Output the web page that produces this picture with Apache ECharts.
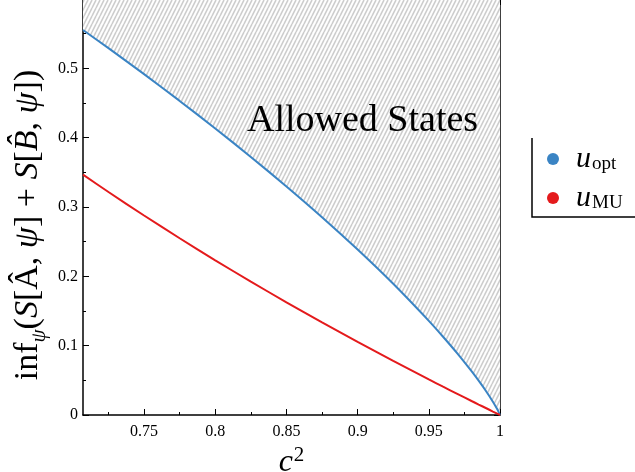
<!DOCTYPE html>
<html>
<head>
<meta charset="utf-8">
<script src="https://cdn.jsdelivr.net/npm/echarts@6/dist/echarts.min.js"></script>
<style>
  html, body { margin: 0; padding: 0; background: #fff; }
  #chart { width: 635px; height: 472px; }
</style>
</head>
<body>
<div id="chart"></div>
<script>
// c^2 sample points and the two entropic lower bounds (nats)
const c2 = [0.70711, 0.725, 0.75, 0.775, 0.8, 0.825, 0.85, 0.875, 0.9, 0.925, 0.95, 0.96, 0.97, 0.98, 0.985, 0.99, 0.995, 0.998, 0.999, 1];
const uOpt = [0.5553, 0.5291, 0.4916, 0.4530, 0.4133, 0.3722, 0.3297, 0.2853, 0.2386, 0.1892, 0.1358, 0.1129, 0.0889, 0.0632, 0.0495, 0.0350, 0.0192, 0.0086, 0.0046, 0];
const uMU = [0.3466, 0.3216, 0.2877, 0.2549, 0.2231, 0.1924, 0.1625, 0.1335, 0.1054, 0.0780, 0.0513, 0.0408, 0.0305, 0.0202, 0.0151, 0.0101, 0.0050, 0.0020, 0.0010, 0];

// tick positions on the c^2 axis
const xMajor = [0.75, 0.8, 0.85, 0.9, 0.95, 1];
const xMinor = [0.725, 0.775, 0.825, 0.875, 0.925, 0.975];
const xMin = 0.70711, xMax = 1;
const yMin = 0, yMax = 0.6, yStep = 0.1;

const serif = '"Liberation Serif", "DejaVu Serif", serif';
const BLUE = '#3a84c4';
const RED = '#e41a1c';

// diagonal hatch used for the allowed region
function hatchPattern() {
  const w = 4, h = 8;
  const cv = document.createElement('canvas');
  cv.width = w; cv.height = h;
  const ctx = cv.getContext('2d');
  ctx.fillStyle = '#ffffff';
  ctx.fillRect(0, 0, w, h);
  ctx.strokeStyle = '#cdcdcd';
  ctx.lineWidth = 1.6;
  for (let k = -1; k <= 1; k++) {
    ctx.beginPath();
    ctx.moveTo(k * w, h);
    ctx.lineTo(k * w + w, 0);
    ctx.stroke();
  }
  return cv;
}

const pairs = (ys) => c2.map((x, i) => [x, ys[i]]);

function xAxisDef(pos, values, len, withLine, withLabels) {
  return {
    type: 'value', position: pos, min: xMin, max: xMax,
    axisLine: { show: withLine, onZero: false, lineStyle: { color: '#000', width: 1.5 } },
    axisTick: { show: true, inside: true, length: len, customValues: values, lineStyle: { color: '#000', width: 1 } },
    axisLabel: withLabels ? {
      show: true, customValues: values, margin: 9,
      fontFamily: serif, fontSize: 16, color: '#000',
      formatter: (v) => String(+v.toFixed(3))
    } : { show: false },
    splitLine: { show: false }
  };
}

function yAxisDef(pos, withLabels) {
  return {
    type: 'value', position: pos, min: yMin, max: yMax, interval: yStep,
    axisLine: { show: true, onZero: false, lineStyle: { color: '#000', width: 1.5 } },
    axisTick: { show: true, inside: true, length: 6, lineStyle: { color: '#000', width: 1 } },
    minorTick: { show: true, splitNumber: 2, length: 3, lineStyle: { color: '#000', width: 1 } },
    axisLabel: withLabels ? {
      show: true, margin: 5, showMaxLabel: false,
      fontFamily: serif, fontSize: 16, color: '#000',
      formatter: (v) => String(+v.toFixed(2))
    } : { show: false },
    splitLine: { show: false }
  };
}

const chart = echarts.init(document.getElementById('chart'), null, { renderer: 'canvas' });

chart.setOption({
  backgroundColor: '#fff',
  animation: false,
  grid: { left: 83, right: 135, top: -1, bottom: 57, containLabel: false, outerBoundsMode: 'none' },
  xAxis: [
    Object.assign(xAxisDef('bottom', xMajor, 6, true, true), {
      name: '{c|c}{s|2}', nameLocation: 'middle', nameGap: 18,
      nameTextStyle: {
        rich: {
          c: { fontFamily: serif, fontStyle: 'italic', fontSize: 32, color: '#000', lineHeight: 34, verticalAlign: 'bottom' },
          s: { fontFamily: serif, fontSize: 21, color: '#000', lineHeight: 34, verticalAlign: 'top', padding: [0, 0, 0, 1] }
        }
      }
    }),
    xAxisDef('bottom', xMinor, 3, false, false),
    xAxisDef('top', xMajor, 6, true, false),
    xAxisDef('top', xMinor, 3, false, false)
  ],
  yAxis: [yAxisDef('left', true), yAxisDef('right', false)],
  legend: {
    orient: 'vertical', left: 542, top: 139, itemGap: 9,
    icon: 'circle', itemWidth: 12, itemHeight: 12,
    data: ['u_opt', 'u_MU'],
    formatter: (name) => name === 'u_opt' ? '{u|u}{s|opt}' : '{u|u}{s|MU}',
    textStyle: {
      rich: {
        u: { fontFamily: serif, fontStyle: 'italic', fontSize: 30, color: '#000', lineHeight: 29, verticalAlign: 'middle', padding: [0, 1, 0, 12] },
        s: { fontFamily: serif, fontSize: 19, color: '#000', lineHeight: 29, verticalAlign: 'bottom' }
      }
    }
  },
  series: [
    {
      name: 'u_opt', type: 'line', xAxisIndex: 0, yAxisIndex: 0,
      data: pairs(uOpt), showSymbol: false, smooth: 0.2,
      color: BLUE,
      lineStyle: { color: BLUE, width: 2 },
      areaStyle: { origin: 'end', opacity: 1, color: { image: hatchPattern(), repeat: 'repeat' } },
      z: 3
    },
    {
      name: 'u_MU', type: 'line', xAxisIndex: 0, yAxisIndex: 0,
      data: pairs(uMU), showSymbol: false, smooth: 0.2,
      color: RED,
      lineStyle: { color: RED, width: 2 },
      z: 4
    }
  ],
  graphic: [
    {
      type: 'text', left: 247, top: 102, z: 10,
      style: { text: 'Allowed States', font: '38px ' + serif, fill: '#000' }
    },
    {
      type: 'text', x: 28, y: 225, rotation: Math.PI / 2, z: 10,
      style: {
        text: '{r|inf}{sub|ψ}{r|(}{i|S}{r|[Â, }{i|ψ}{r|] + }{i|S}{r|[}{i|B̂}{r|, }{i|ψ}{r|])}',
        align: 'center', verticalAlign: 'middle',
        rich: {
          r: { fontFamily: serif, fontSize: 34, fill: '#000', lineHeight: 44, verticalAlign: 'middle' },
          i: { fontFamily: serif, fontStyle: 'italic', fontSize: 34, fill: '#000', lineHeight: 44, verticalAlign: 'middle' },
          sub: { fontFamily: serif, fontStyle: 'italic', fontSize: 21, fill: '#000', lineHeight: 26, verticalAlign: 'bottom' }
        }
      }
    },
    {
      type: 'polyline', z: 10,
      shape: { points: [[532, 138], [532, 217], [635, 217]] },
      style: { stroke: '#000', lineWidth: 1.5, fill: null }
    }
  ]
});
</script>
</body>
</html>
